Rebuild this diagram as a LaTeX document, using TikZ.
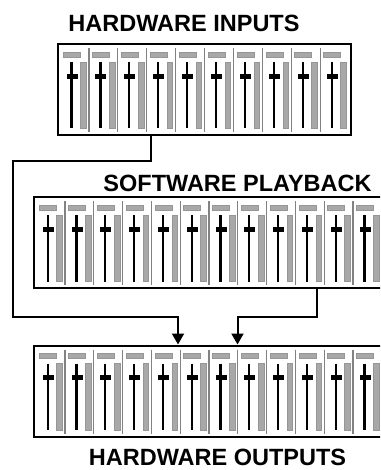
\documentclass[tikz,border=0pt]{standalone}
\usepackage{fontspec}
\setmainfont{Liberation Sans}
\usetikzlibrary{arrows.meta}
\definecolor{metergray}{RGB}{168,168,168}
\definecolor{metedge}{RGB}{150,150,150}
\definecolor{divgray}{RGB}{130,130,130}
\newcommand\mixerstrips[4]{%
  \foreach \k in {1,...,#3}{%
    \pgfmathsetmacro\cx{#2+(\k-1)*#4}%
    \filldraw[meterbar] (\cx+3.5,#1+9) rectangle (\cx+20.5,#1+14);
    \filldraw[meterbar] (\cx+20.5,#1+19) rectangle (\cx+26,#1+85.5);
    \draw[faderline] (\cx+11.5,#1+19) -- (\cx+11.5,#1+85.5);
    \fill (\cx+6.5,#1+30.8) rectangle (\cx+17.5,#1+35.8);
  }%
  \foreach \k in {2,...,#3}{%
    \pgfmathsetmacro\cx{#2+(\k-1)*#4}%
    \draw[divider] (\cx,#1+5) -- (\cx,#1+89);
  }%
}
\begin{document}
\begin{tikzpicture}[x=1pt,y=-1pt,
  panel/.style={draw=black,line width=2pt,fill=white,rectangle,inner sep=0pt},
  meterbar/.style={fill=metergray,draw=metedge,line width=0.5pt},
  faderline/.style={line width=2.2pt,black},
  divider/.style={divgray,line width=1.2pt},
  wire/.style={line width=2pt,black},
  arr/.style={-{Triangle[width=12pt,length=11pt]}},
  title/.style={inner sep=0pt,font=\fontsize{23.5}{24}\selectfont\bfseries}]
\useasboundingbox (0,0) rectangle (380,470);
\fill[white] (0,0) rectangle (380,470);
\begin{scope}
\clip (0,0) rectangle (380,470);
% boxes
\node[panel,minimum width=293pt,minimum height=91pt] (hwin) at (204.5,89.5) {};
\node[panel,minimum width=352pt,minimum height=91pt] (swpb) at (210,242.5) {};
\node[panel,minimum width=352pt,minimum height=91pt] (hwout) at (210,391) {};
% strips
\mixerstrips{43}{60}{10}{28.9}
\mixerstrips{196}{36.2}{12}{28.8}
\mixerstrips{344.5}{36.2}{12}{28.8}
\end{scope}
% titles
\node[title] (tin) at (184,23) {HARDWARE INPUTS};
\node[title] (tpb) at (237.5,183) {SOFTWARE PLAYBACK};
\node[title] (tout) at (217.5,457.5) {HARDWARE OUTPUTS};
% connectors
\coordinate (tapA) at (150.5,0);
\coordinate (turnA) at (12.5,161);
\coordinate (dropA) at (178,316.5);
\coordinate (tapB) at (317,0);
\coordinate (dropB) at (237.5,316.5);
\draw[wire,arr] (hwin.south -| tapA) |- (turnA) |- (dropA) -- (hwout.north -| dropA);
\draw[wire,arr] (swpb.south -| tapB) |- (dropB) -- (hwout.north -| dropB);
\end{tikzpicture}
\end{document}
